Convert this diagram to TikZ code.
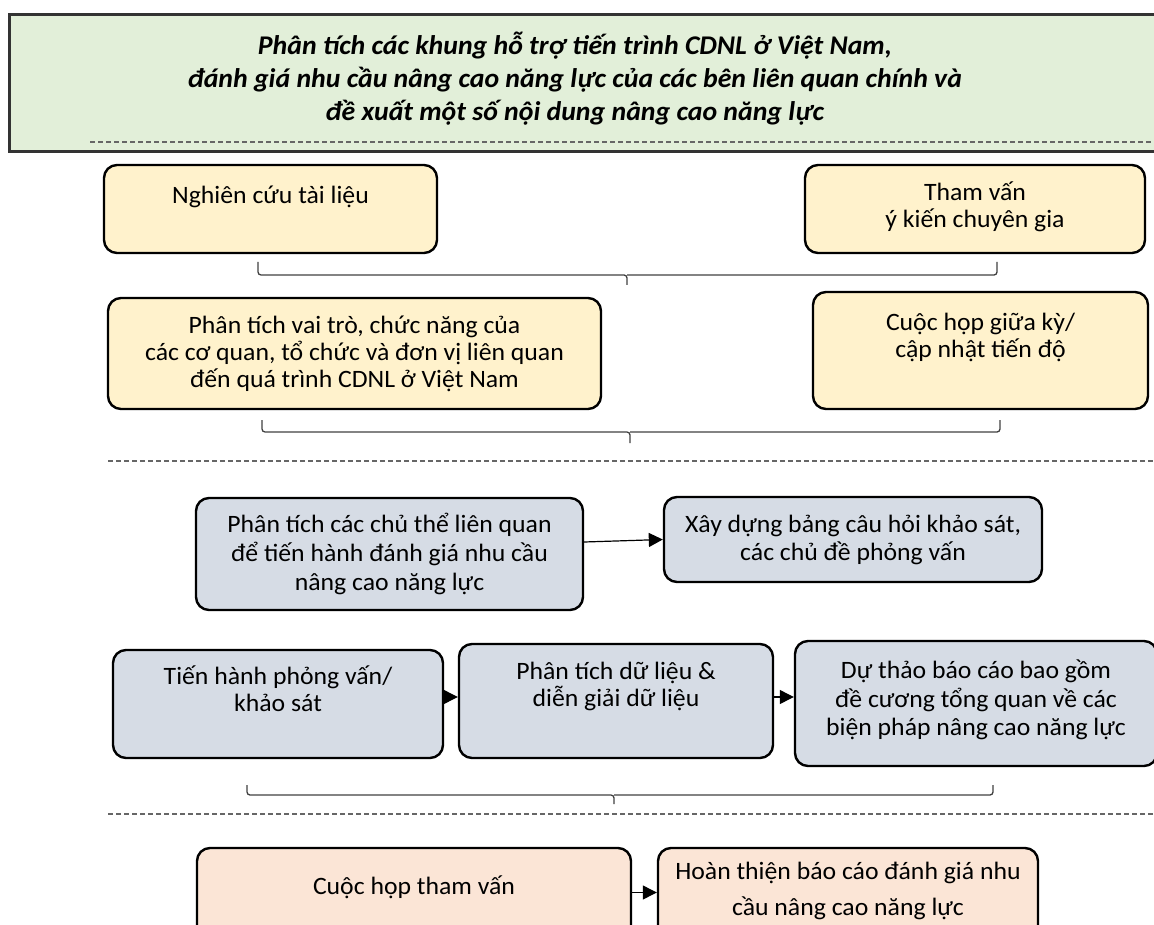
\documentclass[tikz,border=0pt]{standalone}
\usepackage{fontspec}
\setmainfont{Carlito}[FakeStretch=1.03]
\usetikzlibrary{arrows.meta}

\definecolor{greenbg}{HTML}{E2EFD9}
\definecolor{yellowbg}{HTML}{FFF2CC}
\definecolor{bluebg}{HTML}{D6DCE5}
\definecolor{peachbg}{HTML}{FBE5D6}

\begin{document}
\begin{tikzpicture}[x=1pt,y=-1pt,
  box/.style={draw=black, line width=2.4pt, rounded corners=13pt, inner sep=0pt,
    font=\fontsize{25}{27}\selectfont, align=center},
  ybox/.style={box, fill=yellowbg},
  bbox/.style={box, fill=bluebg},
  pbox/.style={box, fill=peachbg},
  txt/.style={anchor=center, align=center, inner sep=0pt, font=\fontsize{25}{27}\selectfont},
  arr/.style={-{Triangle[length=14pt,width=14pt]}, line width=1.2pt},
  brace/.style={draw=black!75, line width=1.3pt, rounded corners=3pt},
  sep/.style={draw=black!60, line width=1.2pt, dash pattern=on 5pt off 3pt}]
\useasboundingbox (0,0) rectangle (1154,925);
\clip (0,0) rectangle (1154,925);

\node[draw=black!80, line width=3pt, fill=greenbg, minimum width=1170, minimum height=137,
  inner sep=0pt, label={[txt, xshift=-19, yshift=5, font=\fontsize{27}{33}\selectfont\bfseries\itshape]center:
  Phân tích các khung hỗ trợ tiến trình CDNL ở Việt Nam,\\
  đánh giá nhu cầu nâng cao năng lực của các bên liên quan chính và\\
  đề xuất một số nội dung nâng cao năng lực}] (title) at (594,83.5) {};
\draw[sep] (90,142) -- (1154,142);

\node[ybox, minimum width=333, minimum height=88,
  label={[txt, yshift=12]center:Nghiên cứu tài liệu}] (lit) at (270.5,209) {};
\node[ybox, minimum width=340, minimum height=88,
  label={[txt, yshift=2]center:Tham vấn\\ý kiến chuyên gia}] (tv) at (975,209) {};
\draw[brace] (258,262) |- (627,275) -- (627,285);
\draw[brace] (997,262) |- (627,275);

\node[ybox, minimum width=493, minimum height=111,
  label={[txt]center:Phân tích vai trò, chức năng của\\các cơ quan, tổ chức và đơn vị liên quan\\đến quá trình CDNL ở Việt Nam}] (vt) at (354.5,353.5) {};
\node[ybox, minimum width=335, minimum height=117,
  label={[txt, yshift=13]center:Cuộc họp giữa kỳ/\\cập nhật tiến độ}] (gk) at (980.5,350.5) {};
\draw[brace] (262,420) |- (630,432) -- (630,443);
\draw[brace] (1000,420) |- (630,432);

\draw[sep] (108,461) -- (1154,461);

\node[bbox, minimum width=387, minimum height=112, font=\fontsize{25}{29}\selectfont] (ct) at (389.5,554)
  {Phân tích các chủ thể liên quan\\để tiến hành đánh giá nhu cầu\\nâng cao năng lực};
\node[bbox, minimum width=378, minimum height=85, font=\fontsize{25}{28}\selectfont] (xd) at (853,539.5)
  {Xây dựng bảng câu hỏi khảo sát,\\các chủ đề phỏng vấn};
\draw[arr] ([yshift=12]ct.east) -- (xd.west);

\node[bbox, minimum width=330, minimum height=108,
  label={[txt, yshift=15]center:Tiến hành phỏng vấn/\\khảo sát\hspace{30pt}}] (pv) at (278,704) {};
\node[bbox, minimum width=314, minimum height=114,
  label={[txt, yshift=15]center:Phân tích dữ liệu \&\\diễn giải dữ liệu}] (dl) at (616,701) {};
\node[bbox, minimum width=362, minimum height=125,
  label={[txt, yshift=3.5, font=\fontsize{25}{28.5}\selectfont]center:Dự thảo báo cáo bao gồm\\đề cương tổng quan về các\\biện pháp nâng cao năng lực}] (dt) at (976,703.5) {};
\draw[arr] ([yshift=7]pv.east) -- ([yshift=4]dl.west);
\draw[arr] ([yshift=4]dl.east) -- ([yshift=6.5]dt.west);
\draw[brace] (247,785) |- (614,795) -- (614,804);
\draw[brace] (993,785) |- (614,795);

\draw[sep] (108,814) -- (1154,814);

\node[pbox, minimum width=434, minimum height=95,
  label={[txt, yshift=8]center:Cuộc họp tham vấn}] (th) at (414,895.5) {};
\node[pbox, minimum width=380, minimum height=95,
  label={[txt, yshift=5, font=\fontsize{25}{36}\selectfont]center:Hoàn thiện báo cáo đánh giá nhu\\cầu nâng cao năng lực}] (ht) at (848,895.5) {};
\draw[arr] ([yshift=3]th.east) -- ([yshift=3]ht.west);
\end{tikzpicture}
\end{document}
